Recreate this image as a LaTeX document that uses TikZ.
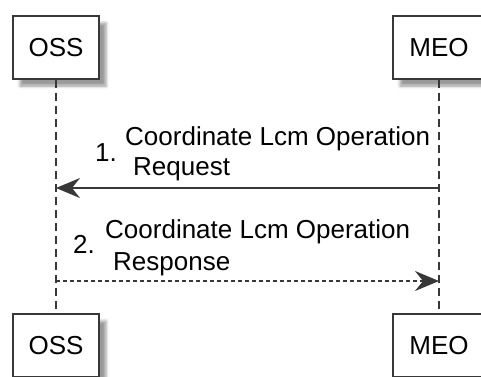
\documentclass[tikz,border=0pt]{standalone}
\usepackage{fontspec}
\setmainfont{Liberation Sans}
\usetikzlibrary{arrows.meta,shadows.blur}

\definecolor{linegray}{RGB}{56,56,56}

\tikzset{
	actor/.style={draw=linegray, line width=2.5pt, fill=white, minimum height=63pt, inner sep=0pt,
		font=\fontsize{26}{31}\selectfont,
		blur shadow={shadow xshift=7pt, shadow yshift=-7pt, shadow blur radius=3pt}},
	life/.style={draw=linegray, line width=1.8pt, dash pattern=on 8pt off 5pt},
	msg/.style={draw=linegray, line width=2pt, -{Stealth[length=24pt, width=20pt, inset=8pt]}},
	txt/.style={inner sep=0pt, anchor=base west, font=\fontsize{26}{31}\selectfont}
}

\begin{document}
\begin{tikzpicture}[x=1pt, y=-1pt]
	\useasboundingbox (0,0) rectangle (481,376);

	\node [actor, minimum width=86pt] (ossTop) at (56,47.5)  {OSS};
	\node [actor, minimum width=92pt] (meoTop) at (439,47.5) {MEO};
	\node [actor, minimum width=86pt] (ossBot) at (56,345.5)  {OSS};
	\node [actor, minimum width=92pt] (meoBot) at (439,345.5) {MEO};

	\coordinate (oss1) at (ossTop |- 0,188);
	\coordinate (meo1) at (meoTop |- 0,188);
	\coordinate (oss2) at (ossTop |- 0,281);
	\coordinate (meo2) at (meoTop |- 0,281);

	\path
	(ossTop) edge [life] (ossBot)
	(meoTop) edge [life] (meoBot);

	\path
	(meo1) edge [msg] (oss1)
	(oss2) edge [msg, dash pattern=on 4pt off 3pt] (meo2);

	\node [txt] (num1) at (95,161)  {1.};
	\node [txt] (req1) at (125,145) {Coordinate Lcm Operation};
	\node [txt] (req2) at (133,175) {Request};
	\node [txt] (num2) at (73,253)  {2.};
	\node [txt] (res1) at (105,238) {Coordinate Lcm Operation};
	\node [txt] (res2) at (113,270) {Response};
\end{tikzpicture}
\end{document}
